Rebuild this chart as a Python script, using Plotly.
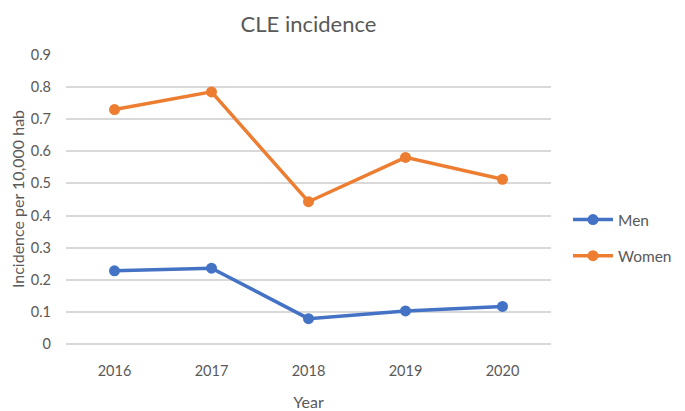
import plotly.graph_objects as go

years = ["2016", "2017", "2018", "2019", "2020"]
men = [0.228, 0.236, 0.079, 0.103, 0.117]
women = [0.730, 0.785, 0.443, 0.581, 0.513]
y_ticks = [0, 0.1, 0.2, 0.3, 0.4, 0.5, 0.6, 0.7, 0.8, 0.9]

FONT = "Lato, Open Sans, sans-serif"
GRAY = "#595959"

fig = go.Figure()
fig.add_trace(go.Scatter(x=years, y=men, name="Men", mode="lines+markers",
                         legendgroup="m",
                         line=dict(color="#4472C4", width=3.5),
                         marker=dict(size=11, color="#4472C4")))
fig.add_trace(go.Scatter(x=years, y=women, name="Women", mode="lines+markers",
                         legendgroup="w",
                         line=dict(color="#ED7D31", width=3.5),
                         marker=dict(size=11, color="#ED7D31")))

fig.update_layout(
    width=685, height=411,
    margin=dict(l=58, r=142, t=46, b=75, autoexpand=False),
    paper_bgcolor="white", plot_bgcolor="white",
    font=dict(family=FONT, color=GRAY, size=14),
    title=dict(text="CLE incidence", x=300.5 / 685, xanchor="center",
               y=0.98, yanchor="top", font=dict(size=22, color=GRAY, family=FONT)),
    xaxis=dict(title=dict(text="Year", font=dict(size=16), standoff=19),
               automargin=False, range=[-0.5, 4.5],
               showgrid=False, showline=False, zeroline=False, ticks="",
               tickfont=dict(size=14.5), ticklabelstandoff=16),
    yaxis=dict(title=dict(text="Incidence per 10,000 hab", font=dict(size=16), standoff=28),
               automargin=False,
               range=[0, 0.903], tickvals=y_ticks, ticktext=[f"{v:g}" for v in y_ticks],
               showgrid=True, gridcolor="#D9D9D9", gridwidth=1.5,
               zeroline=True, zerolinecolor="#D9D9D9", zerolinewidth=1.5,
               showline=False, ticks="", tickfont=dict(size=14.5), ticklabelstandoff=14),
    legend=dict(x=0.035 + 1, xanchor="left", y=1 - (230 - 46) / 290, yanchor="middle",
                font=dict(size=15.5, color=GRAY), tracegroupgap=13,
                itemwidth=40),
    showlegend=True,
)

fig.write_html("out.html")
